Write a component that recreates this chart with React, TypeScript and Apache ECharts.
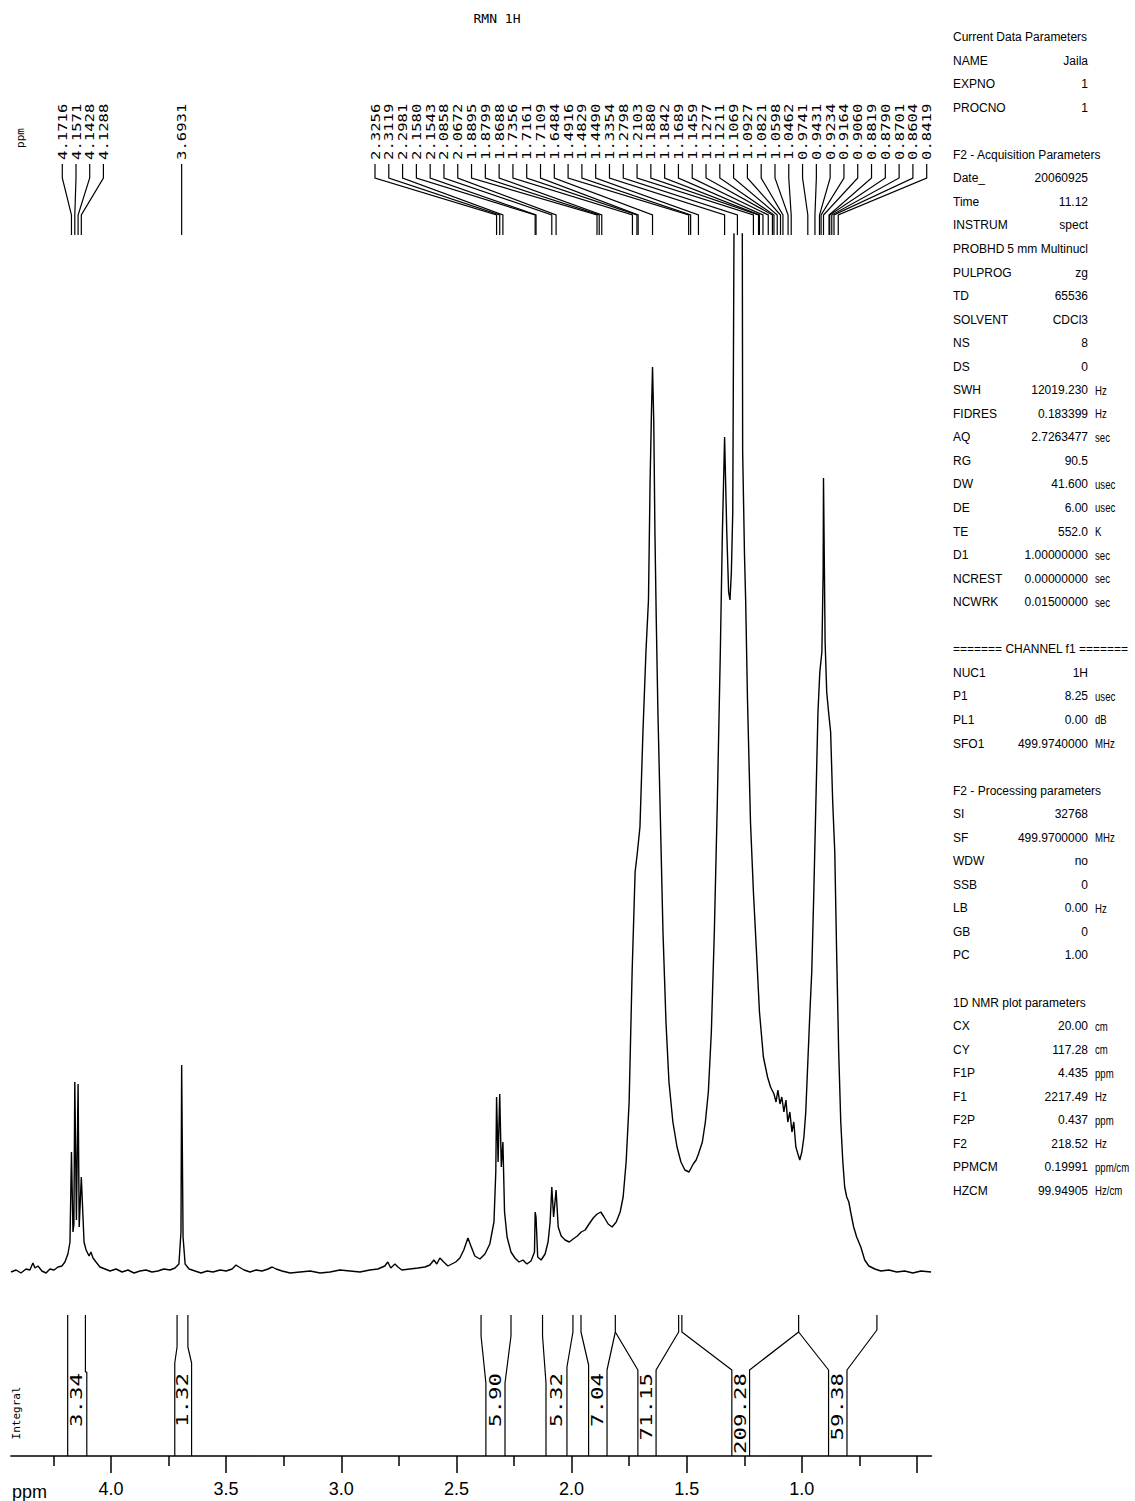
import React, { useEffect, useRef } from "react";
import * as echarts from "echarts";

const W = 1135;
const H = 1501;
const PPM_LEFT = 4.435;
const PPM_RIGHT = 0.437;
const MAJOR_TICKS = [4.0, 3.5, 3.0, 2.5, 2.0, 1.5, 1.0, 0.5];
const MAJOR_LABELS = [4.0, 3.5, 3.0, 2.5, 2.0, 1.5, 1.0];
const MINOR_TICKS = [4.25, 3.75, 3.25, 2.75, 2.25, 1.75, 1.25, 0.75];

// [ppm, intensity]
const SPECTRUM: [number, number][] = [
  [4.434, 0], [4.412, 2], [4.391, -1], [4.369, 3], [4.352, 2], [4.339, 9], [4.33, 4], [4.317, 6],
  [4.3, 1], [4.282, -1], [4.265, 3], [4.247, 2], [4.23, 5], [4.213, 6], [4.2, 10], [4.187, 18],
  [4.178, 30], [4.1716, 120], [4.165, 40], [4.161, 48], [4.1571, 190], [4.15, 52], [4.1428, 188],
  [4.138, 45], [4.1288, 95], [4.117, 30], [4.108, 22], [4.095, 16], [4.087, 20], [4.078, 14],
  [4.065, 10], [4.048, 5], [4.026, 3], [4.004, 1], [3.978, 3], [3.952, 0], [3.926, 2], [3.9, -1],
  [3.874, 1], [3.848, 2], [3.822, 0], [3.796, 1], [3.77, 3], [3.744, 2], [3.722, 4], [3.705, 8],
  [3.696, 40], [3.6931, 207], [3.687, 35], [3.678, 8], [3.661, 3], [3.635, 1], [3.609, -1],
  [3.583, 1], [3.557, 0], [3.526, 2], [3.5, 1], [3.474, 3], [3.457, 7], [3.444, 5], [3.422, 2],
  [3.396, 0], [3.37, 2], [3.344, 1], [3.318, 3], [3.3, 5], [3.283, 3], [3.257, 1], [3.222, -1],
  [3.179, 0], [3.135, 1], [3.092, -1], [3.049, 0], [3.006, 2], [2.962, 1], [2.919, 0], [2.876, 2],
  [2.841, 3], [2.811, 6], [2.798, 10], [2.785, 4], [2.767, 8], [2.754, 5], [2.737, 2], [2.702, 3],
  [2.667, 4], [2.637, 5], [2.615, 7], [2.598, 12], [2.585, 8], [2.572, 14], [2.555, 10], [2.537, 6],
  [2.52, 8], [2.503, 10], [2.485, 14], [2.468, 22], [2.45, 34], [2.437, 26], [2.42, 16], [2.398, 13],
  [2.376, 18], [2.355, 28], [2.337, 50], [2.329, 100], [2.3256, 175], [2.319, 110], [2.3119, 178],
  [2.305, 105], [2.2981, 130], [2.291, 60], [2.28, 35], [2.263, 20], [2.246, 14], [2.228, 10],
  [2.211, 12], [2.194, 8], [2.176, 11], [2.161, 20], [2.158, 60], [2.1543, 55], [2.147, 15],
  [2.132, 12], [2.115, 18], [2.102, 30], [2.093, 50], [2.0858, 85], [2.078, 55], [2.0672, 82],
  [2.058, 45], [2.045, 36], [2.028, 32], [2.01, 30], [1.993, 33], [1.975, 36], [1.958, 40],
  [1.941, 42], [1.924, 48], [1.906, 54], [1.889, 58], [1.873, 60], [1.859, 55], [1.841, 48],
  [1.824, 45], [1.806, 50], [1.789, 60], [1.776, 75], [1.763, 110], [1.75, 170], [1.737, 300],
  [1.724, 400], [1.714, 420], [1.703, 445], [1.69, 540], [1.677, 620], [1.666, 672], [1.659, 790],
  [1.653, 860], [1.6484, 905], [1.643, 850], [1.638, 740], [1.632, 650], [1.625, 560], [1.616, 470],
  [1.603, 340], [1.59, 250], [1.577, 190], [1.56, 150], [1.542, 125], [1.525, 110], [1.508, 102],
  [1.49, 100], [1.4716, 108], [1.459, 112], [1.449, 118], [1.432, 130], [1.419, 150], [1.406, 180],
  [1.393, 240], [1.38, 340], [1.367, 470], [1.354, 620], [1.345, 740], [1.3354, 835], [1.332, 800],
  [1.326, 740], [1.318, 680], [1.312, 672], [1.306, 700], [1.3, 760], [1.2935, 1100], [1.2798, 1300],
  [1.27, 1300], [1.259, 1100], [1.257, 820], [1.249, 717], [1.244, 672], [1.236, 572], [1.223, 450],
  [1.2103, 380], [1.197, 320], [1.184, 260], [1.167, 215], [1.149, 195], [1.136, 185], [1.121, 178],
  [1.112, 170], [1.104, 182], [1.095, 168], [1.087, 175], [1.078, 160], [1.069, 172], [1.061, 150],
  [1.052, 160], [1.043, 140], [1.035, 150], [1.026, 125], [1.017, 118], [1.009, 112], [1.0, 120],
  [0.991, 135], [0.983, 160], [0.974, 210], [0.965, 260], [0.957, 300], [0.948, 380], [0.939, 470],
  [0.93, 560], [0.922, 600], [0.913, 620], [0.9075, 700], [0.906, 794], [0.899, 630], [0.892, 580],
  [0.884, 560], [0.875, 540], [0.866, 470], [0.857, 420], [0.849, 320], [0.84, 220], [0.831, 150],
  [0.822, 110], [0.814, 85], [0.805, 75], [0.796, 70], [0.788, 60], [0.775, 45], [0.762, 35],
  [0.744, 25], [0.727, 12], [0.709, 6], [0.683, 3], [0.657, 1], [0.622, 2], [0.588, 0], [0.553, 1],
  [0.518, -1], [0.483, 1], [0.439, 0],
];

const PEAKS_A = [4.1716, 4.1571, 4.1428, 4.1288];
const PEAKS_B = [3.6931];
const PEAKS_C = [
  2.3256, 2.3119, 2.2981, 2.158, 2.1543, 2.0858, 2.0672, 1.8895, 1.8799, 1.8688, 1.7356, 1.7161,
  1.7109, 1.6484, 1.4916, 1.4829, 1.449, 1.3354, 1.2798, 1.2103, 1.188, 1.1842, 1.1689, 1.1459,
  1.1277, 1.1211, 1.1069, 1.0927, 1.0821, 1.0598, 1.0462, 0.9741, 0.9431, 0.9234, 0.9164, 0.906,
  0.8819, 0.879, 0.8701, 0.8604, 0.8419,
];

const INTEGRAL_VALUES = ["3.34", "1.32", "5.90", "5.32", "7.04", "71.15", "209.28", "59.38"];
const INTEGRAL_CENTERS = [4.147, 3.687, 2.33, 2.065, 1.886, 1.672, 1.265, 0.844];
// integral trace outlines: [ppm, height]
const INTEGRAL_TRACES: [number, number][][] = [
  [[4.188, 141], [4.188, 0]],
  [[4.111, 141], [4.111, 84], [4.105, 84], [4.105, 0]],
  [[3.713, 141], [3.713, 109], [3.723, 93], [3.723, 0]],
  [[3.666, 141], [3.666, 109], [3.65, 93], [3.65, 0]],
  [[2.393, 141], [2.393, 120], [2.372, 73], [2.372, 0]],
  [[2.263, 141], [2.263, 120], [2.289, 73], [2.289, 0]],
  [[2.126, 141], [2.126, 120], [2.111, 73], [2.111, 0]],
  [[1.994, 141], [1.994, 124], [2.02, 89], [2.02, 0]],
  [[1.959, 141], [1.959, 124], [1.926, 91], [1.926, 0]],
  [[1.846, 0], [1.846, 86], [1.81, 124], [1.81, 141]],
  [[1.81, 124], [1.712, 86], [1.712, 0]],
  [[1.633, 0], [1.633, 86], [1.535, 124], [1.535, 141]],
  [[1.521, 141], [1.521, 124], [1.304, 86], [1.304, 0]],
  [[1.227, 0], [1.227, 86], [1.014, 124], [1.014, 141]],
  [[1.014, 124], [0.884, 86], [0.884, 0]],
  [[0.804, 0], [0.804, 86], [0.674, 126], [0.674, 141]],
];

// parameter panel rows: [label, value, unit]; header rows have only a label; null = blank line
const PARAM_ROWS: ([string] | [string, string, string] | null)[] = [
  ["Current Data Parameters"],
  ["NAME", "Jaila", ""],
  ["EXPNO", "1", ""],
  ["PROCNO", "1", ""],
  null,
  ["F2 - Acquisition Parameters"],
  ["Date_", "20060925", ""],
  ["Time", "11.12", ""],
  ["INSTRUM", "spect", ""],
  ["PROBHD", "5 mm Multinucl", ""],
  ["PULPROG", "zg", ""],
  ["TD", "65536", ""],
  ["SOLVENT", "CDCl3", ""],
  ["NS", "8", ""],
  ["DS", "0", ""],
  ["SWH", "12019.230", "Hz"],
  ["FIDRES", "0.183399", "Hz"],
  ["AQ", "2.7263477", "sec"],
  ["RG", "90.5", ""],
  ["DW", "41.600", "usec"],
  ["DE", "6.00", "usec"],
  ["TE", "552.0", "K"],
  ["D1", "1.00000000", "sec"],
  ["NCREST", "0.00000000", "sec"],
  ["NCWRK", "0.01500000", "sec"],
  null,
  ["======= CHANNEL f1 ======="],
  ["NUC1", "1H", ""],
  ["P1", "8.25", "usec"],
  ["PL1", "0.00", "dB"],
  ["SFO1", "499.9740000", "MHz"],
  null,
  ["F2 - Processing parameters"],
  ["SI", "32768", ""],
  ["SF", "499.9700000", "MHz"],
  ["WDW", "no", ""],
  ["SSB", "0", ""],
  ["LB", "0.00", "Hz"],
  ["GB", "0", ""],
  ["PC", "1.00", ""],
  null,
  ["1D NMR plot parameters"],
  ["CX", "20.00", "cm"],
  ["CY", "117.28", "cm"],
  ["F1P", "4.435", "ppm"],
  ["F1", "2217.49", "Hz"],
  ["F2P", "0.437", "ppm"],
  ["F2", "218.52", "Hz"],
  ["PPMCM", "0.19991", "ppm/cm"],
  ["HZCM", "99.94905", "Hz/cm"],
];

const MONO = "'DejaVu Sans Mono', 'Liberation Mono', monospace";
const SANS = "'Liberation Sans', 'DejaVu Sans', sans-serif";

const GRID_LEFT = 10.8;
const GRID_RIGHT = W - 931.5;
const AXIS_Y = 1456;

export default function App() {
  const ref = useRef<HTMLDivElement>(null);

  useEffect(() => {
    if (!ref.current) return;
    const chart = echarts.init(ref.current, null, { renderer: "svg" });

    const baseX = {
      type: "value",
      min: PPM_RIGHT,
      max: PPM_LEFT,
      inverse: true,
      splitLine: { show: false },
    };

    const integralSeries = INTEGRAL_TRACES.map((trace) => ({
      type: "line",
      xAxisIndex: 2,
      yAxisIndex: 1,
      data: trace,
      showSymbol: false,
      silent: true,
      lineStyle: { color: "#000", width: 1.2 },
    }));

    const option: any = {
      animation: false,
      backgroundColor: "#ffffff",
      grid: [
        { left: GRID_LEFT, right: GRID_RIGHT, top: 234, bottom: H - AXIS_Y },
        { left: GRID_LEFT, right: GRID_RIGHT, top: 1315, bottom: H - AXIS_Y },
      ],
      xAxis: [
        {
          ...baseX,
          gridIndex: 0,
          position: "bottom",
          axisLine: { show: true, onZero: false, lineStyle: { color: "#000", width: 1.5 } },
          axisTick: { show: true, length: 17, customValues: MAJOR_TICKS, lineStyle: { color: "#000", width: 1.5 } },
          axisLabel: {
            show: true,
            customValues: MAJOR_LABELS,
            formatter: (v: number) => v.toFixed(1),
            margin: 24,
            color: "#000",
            fontSize: 18,
            fontFamily: SANS,
          },
        },
        {
          ...baseX,
          gridIndex: 0,
          position: "bottom",
          axisLine: { show: false, onZero: false },
          axisTick: { show: true, length: 10, customValues: MINOR_TICKS, lineStyle: { color: "#000", width: 1.5 } },
          axisLabel: { show: false },
        },
        { ...baseX, gridIndex: 1, show: false },
      ],
      yAxis: [
        { type: "value", gridIndex: 0, min: -184, max: 1038, show: false, splitLine: { show: false } },
        { type: "value", gridIndex: 1, min: 0, max: 141, show: false, splitLine: { show: false } },
      ],
      series: [
        {
          type: "line",
          xAxisIndex: 0,
          yAxisIndex: 0,
          data: SPECTRUM,
          showSymbol: false,
          silent: true,
          clip: true,
          lineStyle: { color: "#000", width: 1.4 },
        },
        ...integralSeries,
      ],
    };
    chart.setOption(option);

    const px = (ppm: number) => chart.convertToPixel({ xAxisIndex: 0 }, ppm) as number;
    const graphics: any[] = [];
    const lineStyle = { stroke: "#000", lineWidth: 1.2, fill: null };

    const addLabel = (x: number, value: number) => {
      graphics.push({
        type: "text",
        x,
        y: 160,
        rotation: Math.PI / 2,
        scaleX: 1.2,
        silent: true,
        style: {
          text: value.toFixed(4),
          fontSize: 13,
          fontFamily: MONO,
          fill: "#000",
          align: "left",
          verticalAlign: "middle",
        },
      });
    };

    const addGroup = (peaks: number[], start: number, step: number) => {
      peaks.forEach((p, i) => {
        const sx = start + step * i;
        const pxk = px(p);
        graphics.push({
          type: "polyline",
          silent: true,
          shape: { points: [[sx, 164], [sx, 178], [pxk, 215], [pxk, 235]] },
          style: lineStyle,
        });
        addLabel(sx, p);
      });
    };

    addGroup(PEAKS_A, 62.3, 13.7);
    PEAKS_B.forEach((p) => {
      const x = px(p);
      graphics.push({ type: "line", silent: true, shape: { x1: x, y1: 164, x2: x, y2: 235 }, style: lineStyle });
      addLabel(x, p);
    });
    addGroup(PEAKS_C, 375, (926.7 - 375) / (PEAKS_C.length - 1));

    // integral labels
    INTEGRAL_VALUES.forEach((v, i) => {
      graphics.push({
        type: "text",
        x: px(INTEGRAL_CENTERS[i]),
        y: 1373,
        rotation: Math.PI / 2,
        scaleX: 1.4,
        silent: true,
        style: { text: v, fontSize: 16, fontFamily: MONO, fill: "#000", align: "right", verticalAlign: "middle" },
      });
    });

    // small axis captions
    graphics.push({
      type: "text", x: 20, y: 138, rotation: Math.PI / 2, silent: true,
      style: { text: "ppm", fontSize: 11, fontFamily: MONO, fill: "#000", align: "center", verticalAlign: "middle" },
    });
    graphics.push({
      type: "text", x: 16, y: 1413, rotation: Math.PI / 2, silent: true,
      style: { text: "Integral", fontSize: 11, fontFamily: MONO, fill: "#000", align: "center", verticalAlign: "middle" },
    });
    graphics.push({
      type: "text", x: 12, y: 1492, silent: true,
      style: { text: "ppm", fontSize: 18, fontFamily: SANS, fill: "#000", align: "left", verticalAlign: "middle" },
    });
    graphics.push({
      type: "text", x: 497, y: 18, silent: true,
      style: { text: "RMN 1H", fontSize: 13, fontFamily: MONO, fill: "#000", align: "center", verticalAlign: "middle" },
    });

    // parameter panel
    PARAM_ROWS.forEach((row, i) => {
      if (!row) return;
      const y = 37 + 23.55 * i;
      const base = { fontSize: 12, fontFamily: SANS, fill: "#000", verticalAlign: "middle" };
      graphics.push({ type: "text", x: 953, y, silent: true, style: { ...base, text: row[0], align: "left" } });
      if (row.length === 3) {
        graphics.push({ type: "text", x: 1088, y, silent: true, style: { ...base, text: row[1], align: "right" } });
        if (row[2]) {
          graphics.push({
            type: "text", x: 1095, y, scaleX: 0.8, silent: true,
            style: { ...base, text: row[2], align: "left" },
          });
        }
      }
    });

    chart.setOption({ graphic: graphics });

    return () => chart.dispose();
  }, []);

  return (
    <div
      ref={ref}
      style={{ position: "absolute", left: 0, top: 0, width: W, height: H, background: "#fff" }}
    />
  );
}
